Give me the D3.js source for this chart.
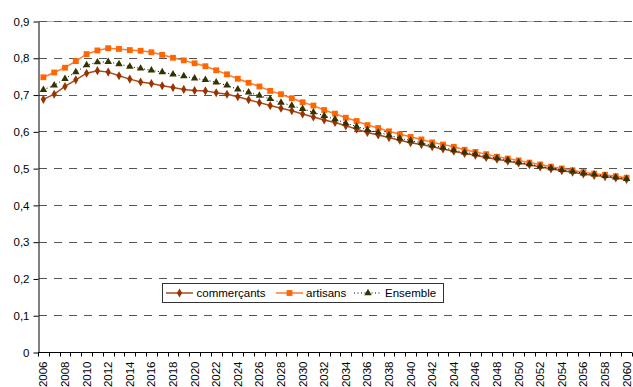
<!DOCTYPE html>
<html>
<head>
<meta charset="utf-8">
<script src="https://cdn.jsdelivr.net/npm/d3@7"></script>
<style>
  html, body { margin: 0; padding: 0; background: #fff; }
  svg { display: block; font-family: "Liberation Sans", Arial, sans-serif; }
</style>
</head>
<body>
<svg id="chart" width="633" height="387"></svg>
<script>
// Years 2006..2060
const years = d3.range(2006, 2061);

const commercants = [
  0.687, 0.701, 0.722, 0.740, 0.758, 0.765, 0.761, 0.751, 0.742, 0.734,
  0.730, 0.724, 0.719, 0.714, 0.711, 0.710, 0.705, 0.701, 0.694, 0.686,
  0.678, 0.670, 0.663, 0.656, 0.647, 0.639, 0.631, 0.624, 0.615, 0.606,
  0.597, 0.590, 0.583, 0.576, 0.569, 0.564, 0.558, 0.552, 0.546, 0.540,
  0.535, 0.529, 0.524, 0.519, 0.514, 0.509, 0.503, 0.498, 0.493, 0.489,
  0.484, 0.480, 0.477, 0.473, 0.469
];

const artisans = [
  0.747, 0.760, 0.773, 0.791, 0.810, 0.820, 0.826, 0.824, 0.821, 0.819,
  0.815, 0.808, 0.800, 0.793, 0.785, 0.777, 0.766, 0.755, 0.743, 0.732,
  0.722, 0.710, 0.701, 0.690, 0.679, 0.670, 0.658, 0.648, 0.637, 0.628,
  0.617, 0.609, 0.600, 0.592, 0.585, 0.578, 0.570, 0.564, 0.558, 0.550,
  0.544, 0.538, 0.531, 0.526, 0.521, 0.515, 0.510, 0.504, 0.499, 0.494,
  0.489, 0.485, 0.482, 0.478, 0.474
];

const ensemble = [
  0.713, 0.725, 0.743, 0.761, 0.780, 0.788, 0.789, 0.783, 0.776, 0.771,
  0.766, 0.761, 0.755, 0.750, 0.744, 0.740, 0.733, 0.725, 0.714, 0.706,
  0.697, 0.688, 0.678, 0.670, 0.661, 0.652, 0.642, 0.633, 0.622, 0.613,
  0.604, 0.597, 0.590, 0.581, 0.575, 0.569, 0.562, 0.556, 0.549, 0.543,
  0.538, 0.532, 0.527, 0.522, 0.516, 0.511, 0.505, 0.500, 0.495, 0.491,
  0.486, 0.483, 0.479, 0.475, 0.471
];

const yTicks = [0, 0.1, 0.2, 0.3, 0.4, 0.5, 0.6, 0.7, 0.8, 0.9];
const seriesNames = ["commerçants", "artisans", "Ensemble"];

const FONT = "'Liberation Sans', Arial, sans-serif";
const svg = d3.select("#chart");
const plotLeft = 38, plotRight = 632, plotTop = 21, plotBottom = 352;

const x = d3.scaleBand().domain(years).range([plotLeft, plotRight]);
const y = d3.scaleLinear().domain([0, 0.9]).range([plotBottom, plotTop]);
const cx = d => x(d) + x.bandwidth() / 2;

// Plot area top border
svg.append("line")
  .attr("x1", plotLeft).attr("x2", plotRight)
  .attr("y1", y(0.9) + 0.5).attr("y2", y(0.9) + 0.5)
  .attr("stroke", "#b0b0b0").attr("stroke-width", 1);

// Dashed horizontal gridlines
svg.append("g").selectAll("line")
  .data(yTicks.filter(t => t > 0))
  .join("line")
  .attr("x1", plotLeft + 1).attr("x2", plotRight)
  .attr("y1", d => Math.round(y(d)) + 0.5)
  .attr("y2", d => Math.round(y(d)) + 0.5)
  .attr("stroke", "#555")
  .attr("stroke-width", 1.2)
  .attr("stroke-dasharray", "8,7");

// Y axis
const yAxis = d3.axisLeft(y).tickValues(yTicks)
  .tickFormat(d => d === 0 ? "0" : d3.format(".1f")(d).replace(".", ","))
  .tickSize(5).tickPadding(4).tickSizeOuter(0);
const gy = svg.append("g").attr("transform", `translate(${plotLeft + 0.5},0.5)`).call(yAxis);
gy.select(".domain").attr("stroke", "#000");
gy.selectAll(".tick line").attr("stroke", "#000");
gy.selectAll("text").attr("font-size", 11.5).attr("fill", "#000")
  .attr("font-family", FONT);

// X axis: ticks at category boundaries, labels every second year
const gx = svg.append("g").attr("transform", `translate(0,${plotBottom + 0.5})`);
gx.append("line").attr("x1", plotLeft).attr("x2", plotRight).attr("stroke", "#000");
const bounds = years.map(d => x(d)).concat([plotRight]);
gx.selectAll("line.tk").data(bounds).join("line").attr("class", "tk")
  .attr("x1", d => Math.round(d) + 0.5).attr("x2", d => Math.round(d) + 0.5)
  .attr("y1", 0).attr("y2", 4).attr("stroke", "#000");
gx.selectAll("text").data(years.filter((d, i) => i % 2 === 0)).join("text")
  .attr("transform", d => `translate(${cx(d) + 4},9) rotate(-90)`)
  .attr("text-anchor", "end")
  .attr("font-size", 11.5)
  .attr("font-family", FONT)
  .attr("fill", "#000")
  .text(d => d);

// Series
const series = [
  { name: seriesNames[0], values: commercants, line: "#A84A1E", mark: "#993300", width: 1.5, dash: null, shape: d3.symbolDiamond, size: 24 },
  { name: seriesNames[1], values: artisans, line: "#FF7A30", mark: "#FF6600", width: 1.5, dash: null, shape: d3.symbolSquare, size: 34 },
  { name: seriesNames[2], values: ensemble, line: "#000", mark: "#333300", width: 1, dash: "1,2.5", shape: d3.symbolTriangle, size: 24 }
];

const lineGen = d3.line().x((d, i) => cx(years[i])).y(d => y(d));

// draw Ensemble last so its triangles sit on top
series.forEach(s => {
  svg.append("path").datum(s.values)
    .attr("d", lineGen)
    .attr("fill", "none")
    .attr("stroke", s.line)
    .attr("stroke-width", s.width)
    .attr("stroke-dasharray", s.dash);
  svg.append("g").selectAll("path")
    .data(s.values)
    .join("path")
    .attr("transform", (d, i) => `translate(${cx(years[i])},${y(d)})`)
    .attr("d", d3.symbol().type(s.shape).size(s.size))
    .attr("fill", s.mark);
});

// Legend
const lg = svg.append("g");
lg.append("rect").attr("x", 162.5).attr("y", 283.5).attr("width", 281).attr("height", 19)
  .attr("fill", "#fff").attr("stroke", "#333").attr("stroke-width", 1);
const legendPos = [
  { x0: 166, x1: 193, tx: 196.5 },
  { x0: 276, x1: 303, tx: 306 },
  { x0: 354, x1: 382, tx: 385 }
];
series.forEach((s, i) => {
  const p = legendPos[i];
  const ly = 293;
  lg.append("line").attr("x1", p.x0).attr("x2", p.x1).attr("y1", ly).attr("y2", ly)
    .attr("stroke", s.line).attr("stroke-width", s.width).attr("stroke-dasharray", s.dash);
  lg.append("path").attr("transform", `translate(${(p.x0 + p.x1) / 2},${ly})`)
    .attr("d", d3.symbol().type(s.shape).size(s.size)).attr("fill", s.mark);
  lg.append("text").attr("x", p.tx).attr("y", ly + 4).attr("font-size", 11.5)
    .attr("font-family", FONT)
    .attr("fill", "#000").text(s.name);
});
</script>
</body>
</html>
